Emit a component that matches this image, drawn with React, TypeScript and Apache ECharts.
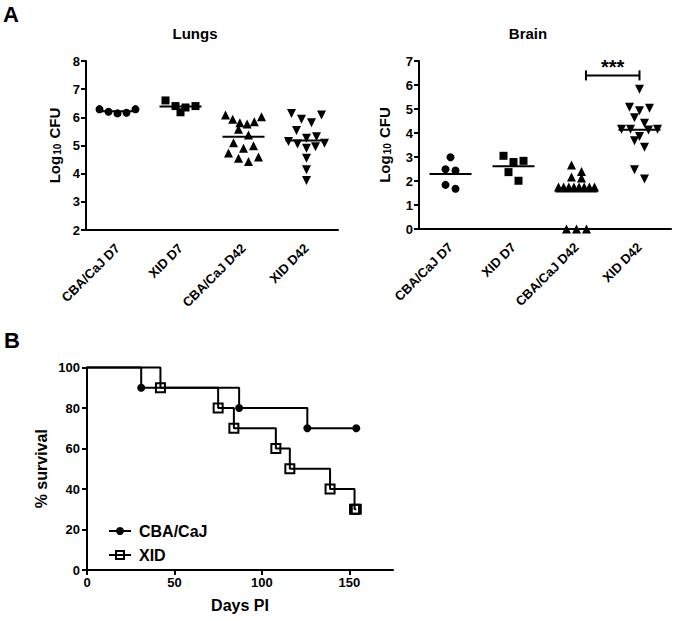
import React, { useEffect, useRef } from 'react';
import * as echarts from 'echarts';

// ---------- data ----------
const groups = ['CBA/CaJ D7', 'XID D7', 'CBA/CaJ D42', 'XID D42'];

const lungsCbaD7 = [6.29, 6.2, 6.14, 6.16, 6.29];
const lungsXidD7 = [6.4, 6.6, 6.18, 6.35, 6.4];
const lungsCbaD42 = [6.08, 5.93, 5.81, 5.76, 5.84, 6.02, 5.58, 5.37, 4.99, 4.9, 5.1, 4.55, 4.43, 4.59, 4.73];
const lungsXidD42 = [6.08, 5.93, 5.81, 6.14, 5.53, 5.31, 5.14, 5.05, 4.9, 5.08, 5.26, 4.55, 4.14, 3.76, 4.96];

const brainCbaD7 = [2.99, 2.49, 2.44, 1.68, 1.84];
const brainXidD7 = [2.84, 2.79, 3.05, 2.37, 2.01];
const brainCbaD42 = [2.67, 2.4, 2.17, 2.12, 1.75, 1.75, 1.75, 1.75, 1.75, 1.75, 1.75, 1.75, 0, 0, 0];
const brainXidD42 = [5.82, 5.07, 4.93, 5.03, 4.64, 4.41, 4.16, 4.16, 4.13, 4.16, 3.85, 3.68, 3.41, 2.47, 2.08];

const lungsTicks = [2, 3, 4, 5, 6, 7, 8];
const brainTicks = [0, 1, 2, 3, 4, 5, 6, 7];

const cbaDays = [0, 31, 87, 126, 154];
const cbaSurvival = [100, 90, 80, 70, 70];
const xidDays = [0, 42, 75, 84, 108, 116, 139, 153, 154];
const xidSurvival = [100, 90, 80, 70, 60, 50, 40, 30, 30];
const daysTicks = [0, 50, 100, 150];

// significance bracket between groups (x from, x to, y level)
const brainSignif = [2.15, 3, 6.4];

// ---------- layout ----------
const FONT = 'Arial, "Liberation Sans", Helvetica, sans-serif';
const LUNGS = { left: 86, top: 61, width: 252, height: 169 };
const BRAIN = { left: 419, top: 61, width: 252, height: 168 };
const SURV = { left: 87, top: 367.5, width: 306, height: 202.5 };

const BIN_PX = 10;
const MAX_STEP = 10;
const MAX_SPREAD = 36;

function swarm(values: number[], pxPerUnit: number, catPx: number): [number, number][] {
  const sorted = values.slice().sort((a, b) => b - a);
  const out: [number, number][] = [];
  let i = 0;
  while (i < sorted.length) {
    const bin = [sorted[i]];
    let j = i + 1;
    while (j < sorted.length && (sorted[i] - sorted[j]) * pxPerUnit <= BIN_PX) {
      bin.push(sorted[j]);
      j++;
    }
    const n = bin.length;
    const step = n > 1 ? Math.min(MAX_STEP, MAX_SPREAD / (n - 1)) : 0;
    const slots: number[] = new Array(n);
    let l = 0;
    let r = n - 1;
    bin.forEach((v, k) => {
      if (k % 2 === 0) slots[l++] = v;
      else slots[r--] = v;
    });
    slots.forEach((v, k) => out.push([((k - (n - 1) / 2) * step) / catPx, v]));
    i = j;
  }
  return out;
}

const mean = (a: number[]) => a.reduce((s, v) => s + v, 0) / a.length;

const symbols = [
  { symbol: 'circle', size: 8, rotate: 0 },
  { symbol: 'rect', size: 8, rotate: 0 },
  { symbol: 'triangle', size: 9, rotate: 0 },
  { symbol: 'triangle', size: 9, rotate: 180 },
];

function dotSeries(sets: number[][], xAxisIndex: number, yAxisIndex: number, box: any, yRange: number) {
  const pxPerUnit = box.height / yRange;
  const catPx = box.width / groups.length;
  const res: any[] = [];
  sets.forEach((vals, gi) => {
    const sym = symbols[gi];
    res.push({
      type: 'scatter',
      xAxisIndex,
      yAxisIndex,
      symbol: sym.symbol,
      symbolSize: sym.size,
      symbolRotate: sym.rotate,
      clip: false,
      itemStyle: { color: '#000', opacity: 1 },
      data: swarm(vals, pxPerUnit, catPx).map(([o, v]) => [gi + o, v]),
      z: 3,
    });
  });
  res.push({
    type: 'custom',
    xAxisIndex,
    yAxisIndex,
    clip: false,
    data: sets.map((vals, gi) => [gi, mean(vals)]),
    renderItem: (params: any, api: any) => {
      const p = api.coord([api.value(0), api.value(1)]);
      return {
        type: 'line',
        shape: { x1: p[0] - 21, y1: p[1], x2: p[0] + 21, y2: p[1] },
        style: { stroke: '#000', lineWidth: 2 },
      };
    },
    z: 4,
  });
  return res;
}

function catAxis(gridIndex: number) {
  return {
    type: 'category',
    gridIndex,
    data: groups,
    boundaryGap: true,
    axisLine: { onZero: false, lineStyle: { color: '#000', width: 2 } },
    axisTick: { alignWithLabel: true, length: 5, lineStyle: { color: '#000', width: 2 } },
    axisLabel: {
      rotate: 45,
      interval: 0,
      margin: 16,
      color: '#000',
      fontFamily: FONT,
      fontWeight: 'bold',
      fontSize: 13,
    },
  };
}

function hiddenX(gridIndex: number) {
  return { type: 'value', gridIndex, min: -0.5, max: 3.5, show: false };
}

const logName = '{a|Log}{b|10}{a| CFU}';
const logRich = {
  a: { fontSize: 15, fontWeight: 'bold', fontFamily: FONT, color: '#000' },
  b: { fontSize: 10, fontWeight: 'bold', fontFamily: FONT, color: '#000', verticalAlign: 'bottom', padding: [5, 1, 0, 1] },
};

function yAxisDef(gridIndex: number, ticks: number[], nameGap: number) {
  return {
    type: 'value',
    gridIndex,
    min: ticks[0],
    max: ticks[ticks.length - 1],
    interval: 1,
    name: logName,
    nameLocation: 'middle',
    nameGap,
    nameRotate: 90,
    nameTextStyle: { rich: logRich },
    splitLine: { show: false },
    axisLine: { show: true, onZero: false, lineStyle: { color: '#000', width: 2 } },
    axisTick: { show: true, length: 5, lineStyle: { color: '#000', width: 2 } },
    axisLabel: { color: '#000', fontFamily: FONT, fontWeight: 'bold', fontSize: 13, margin: 6 },
  };
}

export default function App() {
  const ref = useRef<HTMLDivElement>(null);
  useEffect(() => {
    if (!ref.current) return;
    const chart = echarts.init(ref.current, undefined, { renderer: 'svg' });
    const lungsSets = [lungsCbaD7, lungsXidD7, lungsCbaD42, lungsXidD42];
    const brainSets = [brainCbaD7, brainXidD7, brainCbaD42, brainXidD42];

    const lineCommon = {
      type: 'line',
      xAxisIndex: 4,
      yAxisIndex: 2,
      step: 'end',
      showAllSymbol: true,
      clip: false,
      lineStyle: { color: '#000', width: 2 },
    };

    const option: any = {
      animation: false,
      backgroundColor: '#fff',
      grid: [
        { ...LUNGS, containLabel: false },
        { ...BRAIN, containLabel: false },
        { ...SURV, containLabel: false },
      ],
      xAxis: [
        catAxis(0),
        hiddenX(0),
        catAxis(1),
        hiddenX(1),
        {
          type: 'value',
          gridIndex: 2,
          min: 0,
          max: 175,
          interval: 50,
          name: 'Days PI',
          nameLocation: 'middle',
          nameGap: 27,
          nameTextStyle: { color: '#000', fontFamily: FONT, fontWeight: 'bold', fontSize: 16 },
          splitLine: { show: false },
          axisLine: { onZero: false, lineStyle: { color: '#000', width: 2 } },
          axisTick: { length: 5, customValues: daysTicks, lineStyle: { color: '#000', width: 2 } },
          axisLabel: { customValues: daysTicks, color: '#000', fontFamily: FONT, fontWeight: 'bold', fontSize: 13, margin: 6 },
        },
      ],
      yAxis: [
        yAxisDef(0, lungsTicks, 24),
        yAxisDef(1, brainTicks, 27),
        {
          type: 'value',
          gridIndex: 2,
          min: 0,
          max: 100,
          interval: 20,
          name: '% survival',
          nameLocation: 'middle',
          nameGap: 38,
          nameRotate: 90,
          nameTextStyle: { color: '#000', fontFamily: FONT, fontWeight: 'bold', fontSize: 16 },
          splitLine: { show: false },
          axisLine: { show: true, onZero: false, lineStyle: { color: '#000', width: 2 } },
          axisTick: { show: true, length: 5, lineStyle: { color: '#000', width: 2 } },
          axisLabel: { color: '#000', fontFamily: FONT, fontWeight: 'bold', fontSize: 13, margin: 7 },
        },
      ],
      legend: {
        orient: 'vertical',
        left: 103,
        top: 518,
        itemWidth: 22,
        itemHeight: 10,
        itemGap: 8,
        data: ['CBA/CaJ', 'XID'],
        textStyle: { color: '#000', fontFamily: FONT, fontWeight: 'bold', fontSize: 16, padding: [0, 0, 0, 3] },
      },
      series: [
        ...dotSeries(lungsSets, 1, 0, LUNGS, lungsTicks[lungsTicks.length - 1] - lungsTicks[0]),
        ...dotSeries(brainSets, 3, 1, BRAIN, brainTicks[brainTicks.length - 1] - brainTicks[0]),
        {
          type: 'custom',
          xAxisIndex: 3,
          yAxisIndex: 1,
          clip: false,
          data: [brainSignif],
          renderItem: (params: any, api: any) => {
            const a = api.coord([api.value(0), api.value(2)]);
            const b = api.coord([api.value(1), api.value(2)]);
            const st = { stroke: '#000', lineWidth: 2 };
            return {
              type: 'group',
              children: [
                { type: 'line', shape: { x1: a[0], y1: a[1], x2: b[0], y2: b[1] }, style: st },
                { type: 'line', shape: { x1: a[0], y1: a[1] - 5, x2: a[0], y2: a[1] + 5 }, style: st },
                { type: 'line', shape: { x1: b[0], y1: b[1] - 5, x2: b[0], y2: b[1] + 5 }, style: st },
                {
                  type: 'text',
                  x: (a[0] + b[0]) / 2,
                  y: a[1] - 8,
                  style: {
                    text: '***',
                    fill: '#000',
                    font: `bold 20px ${FONT}`,
                    textAlign: 'center',
                    textVerticalAlign: 'middle',
                  },
                },
              ],
            };
          },
        },
        {
          ...lineCommon,
          name: 'CBA/CaJ',
          symbol: 'circle',
          symbolSize: 8,
          itemStyle: { color: '#000' },
          data: cbaDays.map((d, i) => (i === 0 ? { value: [d, cbaSurvival[i]], symbol: 'none' } : [d, cbaSurvival[i]])),
        },
        {
          ...lineCommon,
          name: 'XID',
          symbol: 'rect',
          symbolSize: 9,
          itemStyle: { color: 'rgba(255,255,255,0)', borderColor: '#000', borderWidth: 2 },
          data: xidDays.map((d, i) => (i === 0 ? { value: [d, xidSurvival[i]], symbol: 'none' } : [d, xidSurvival[i]])),
        },
      ],
      graphic: [
        { type: 'text', x: 3, y: 3, style: { text: 'A', fill: '#000', font: `bold 22px ${FONT}`, textVerticalAlign: 'top' } },
        { type: 'text', x: 4, y: 329, style: { text: 'B', fill: '#000', font: `bold 22px ${FONT}`, textVerticalAlign: 'top' } },
        { type: 'text', x: 195, y: 26, style: { text: 'Lungs', fill: '#000', font: `bold 15px ${FONT}`, textAlign: 'center', textVerticalAlign: 'top' } },
        { type: 'text', x: 528, y: 26, style: { text: 'Brain', fill: '#000', font: `bold 15px ${FONT}`, textAlign: 'center', textVerticalAlign: 'top' } },
      ],
    };
    chart.setOption(option);
    return () => chart.dispose();
  }, []);
  return <div ref={ref} style={{ position: 'fixed', left: 0, top: 0, width: 675, height: 621 }} />;
}
